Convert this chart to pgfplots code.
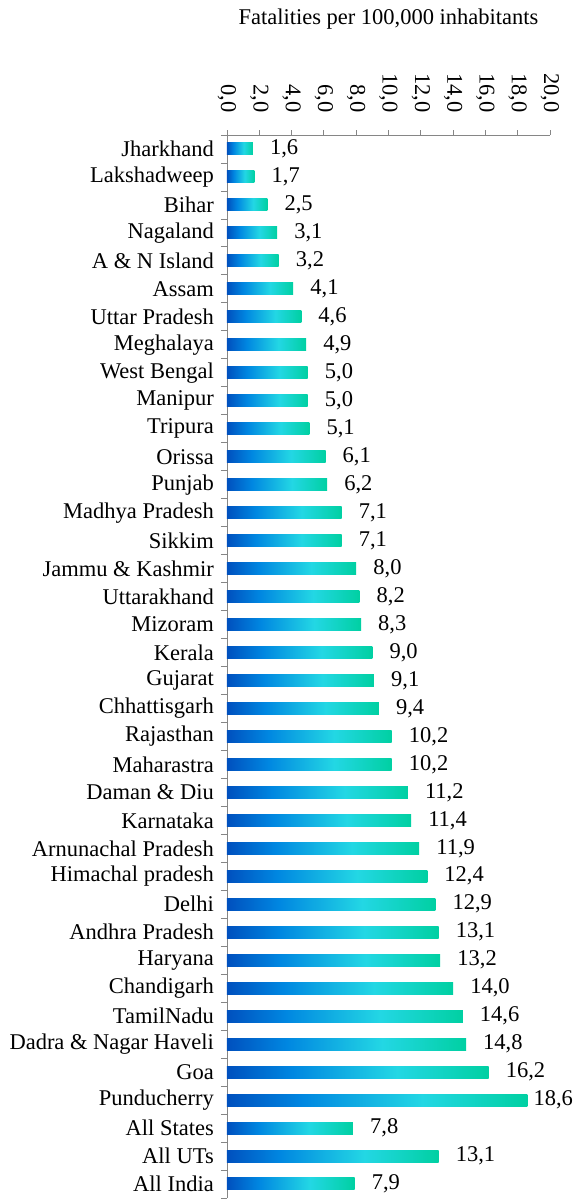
\documentclass[border=0pt]{standalone}
\usepackage{fontspec}
\setmainfont{Liberation Serif}
\usepackage{pgfplots}
\pgfplotsset{compat=1.18}
\newcommand\fsz{\fontsize{22.5}{27}\selectfont}
\definecolor{axgray}{RGB}{134,134,134}
\definecolor{cA}{RGB}{0,80,190}
\definecolor{cB}{RGB}{0,135,225}
\definecolor{cC}{RGB}{35,215,228}
\definecolor{cD}{RGB}{0,208,162}
\pgfdeclarehorizontalshading{barshade}{100bp}{color(0bp)=(cA); color(25bp)=(cA); color(37.5bp)=(cB); color(57.5bp)=(cC); color(75bp)=(cD); color(100bp)=(cD)}
\pgfplotsset{
  mybar/.style={xbar, bar width=12pt, bar shift=0pt, draw=none, shade, shading=barshade,
    point meta=x,
    nodes near coords={\pgfmathprintnumber[assume math mode=true,fixed,fixed zerofill,precision=1,use comma]{\pgfplotspointmeta}},
    every node near coord/.append style={anchor=west, inner sep=0pt, xshift=#1, font=\fsz, text=black}},
  mybar/.default=17pt,
}
\begin{document}
\begin{tikzpicture}
\begin{axis}[
  scale only axis, width=323pt, height=1063pt,
  xmin=0, xmax=20, ymin=-0.5, ymax=37.5, y dir=reverse,
  axis x line*=top, axis y line*=left,
  axis line style={draw=axgray, line width=0.8pt},
  xtick={0,2,...,20},
  xticklabel={\pgfmathprintnumber[assume math mode=true,fixed,fixed zerofill,precision=1,use comma]{\tick}},
  x tick label style={rotate=-90, anchor=east, font=\fsz, inner sep=0pt, xshift=-17pt},
  ytick={0,...,37},
  yticklabels={Jharkhand,Lakshadweep,Bihar,Nagaland,A \& N Island,Assam,Uttar Pradesh,Meghalaya,West Bengal,Manipur,Tripura,Orissa,Punjab,Madhya Pradesh,Sikkim,Jammu \& Kashmir,Uttarakhand,Mizoram,Kerala,Gujarat,Chhattisgarh,Rajasthan,Maharastra,Daman \& Diu,Karnataka,Arnunachal Pradesh,Himachal pradesh,Delhi,Andhra Pradesh,Haryana,Chandigarh,TamilNadu,Dadra \& Nagar Haveli,Goa,Punducherry,All States,All UTs,All India},
  y tick label style={font=\fsz, inner sep=0pt, xshift=-8pt},
  minor ytick={-0.5,0.5,...,37.5},
  tick align=outside,
  tick style={draw=axgray, line width=0.8pt},
  major tick length=5pt, minor tick length=6pt,
  major y tick style={draw=none},
  title={Fatalities per 100,000 inhabitants},
  title style={at={(0.5,1)}, anchor=south, yshift=100pt, inner sep=0pt, font=\fsz},
  clip=false,
]
\addplot[mybar] coordinates {(1.6,0)};
\addplot[mybar] coordinates {(1.7,1)};
\addplot[mybar] coordinates {(2.5,2)};
\addplot[mybar] coordinates {(3.1,3)};
\addplot[mybar] coordinates {(3.2,4)};
\addplot[mybar] coordinates {(4.1,5)};
\addplot[mybar] coordinates {(4.6,6)};
\addplot[mybar] coordinates {(4.9,7)};
\addplot[mybar] coordinates {(5.0,8)};
\addplot[mybar] coordinates {(5.0,9)};
\addplot[mybar] coordinates {(5.1,10)};
\addplot[mybar] coordinates {(6.1,11)};
\addplot[mybar] coordinates {(6.2,12)};
\addplot[mybar] coordinates {(7.1,13)};
\addplot[mybar] coordinates {(7.1,14)};
\addplot[mybar] coordinates {(8.0,15)};
\addplot[mybar] coordinates {(8.2,16)};
\addplot[mybar] coordinates {(8.3,17)};
\addplot[mybar] coordinates {(9.0,18)};
\addplot[mybar] coordinates {(9.1,19)};
\addplot[mybar] coordinates {(9.4,20)};
\addplot[mybar] coordinates {(10.2,21)};
\addplot[mybar] coordinates {(10.2,22)};
\addplot[mybar] coordinates {(11.2,23)};
\addplot[mybar] coordinates {(11.4,24)};
\addplot[mybar] coordinates {(11.9,25)};
\addplot[mybar] coordinates {(12.4,26)};
\addplot[mybar] coordinates {(12.9,27)};
\addplot[mybar] coordinates {(13.1,28)};
\addplot[mybar] coordinates {(13.2,29)};
\addplot[mybar] coordinates {(14.0,30)};
\addplot[mybar] coordinates {(14.6,31)};
\addplot[mybar] coordinates {(14.8,32)};
\addplot[mybar] coordinates {(16.2,33)};
\addplot[mybar=6pt] coordinates {(18.6,34)};
\addplot[mybar] coordinates {(7.8,35)};
\addplot[mybar] coordinates {(13.1,36)};
\addplot[mybar] coordinates {(7.9,37)};
\coordinate (tl) at (axis cs:0,-0.5);
\end{axis}
\path (tl) ++(-227pt,135pt) rectangle ++(576pt,-1202pt);
\end{tikzpicture}
\end{document}
